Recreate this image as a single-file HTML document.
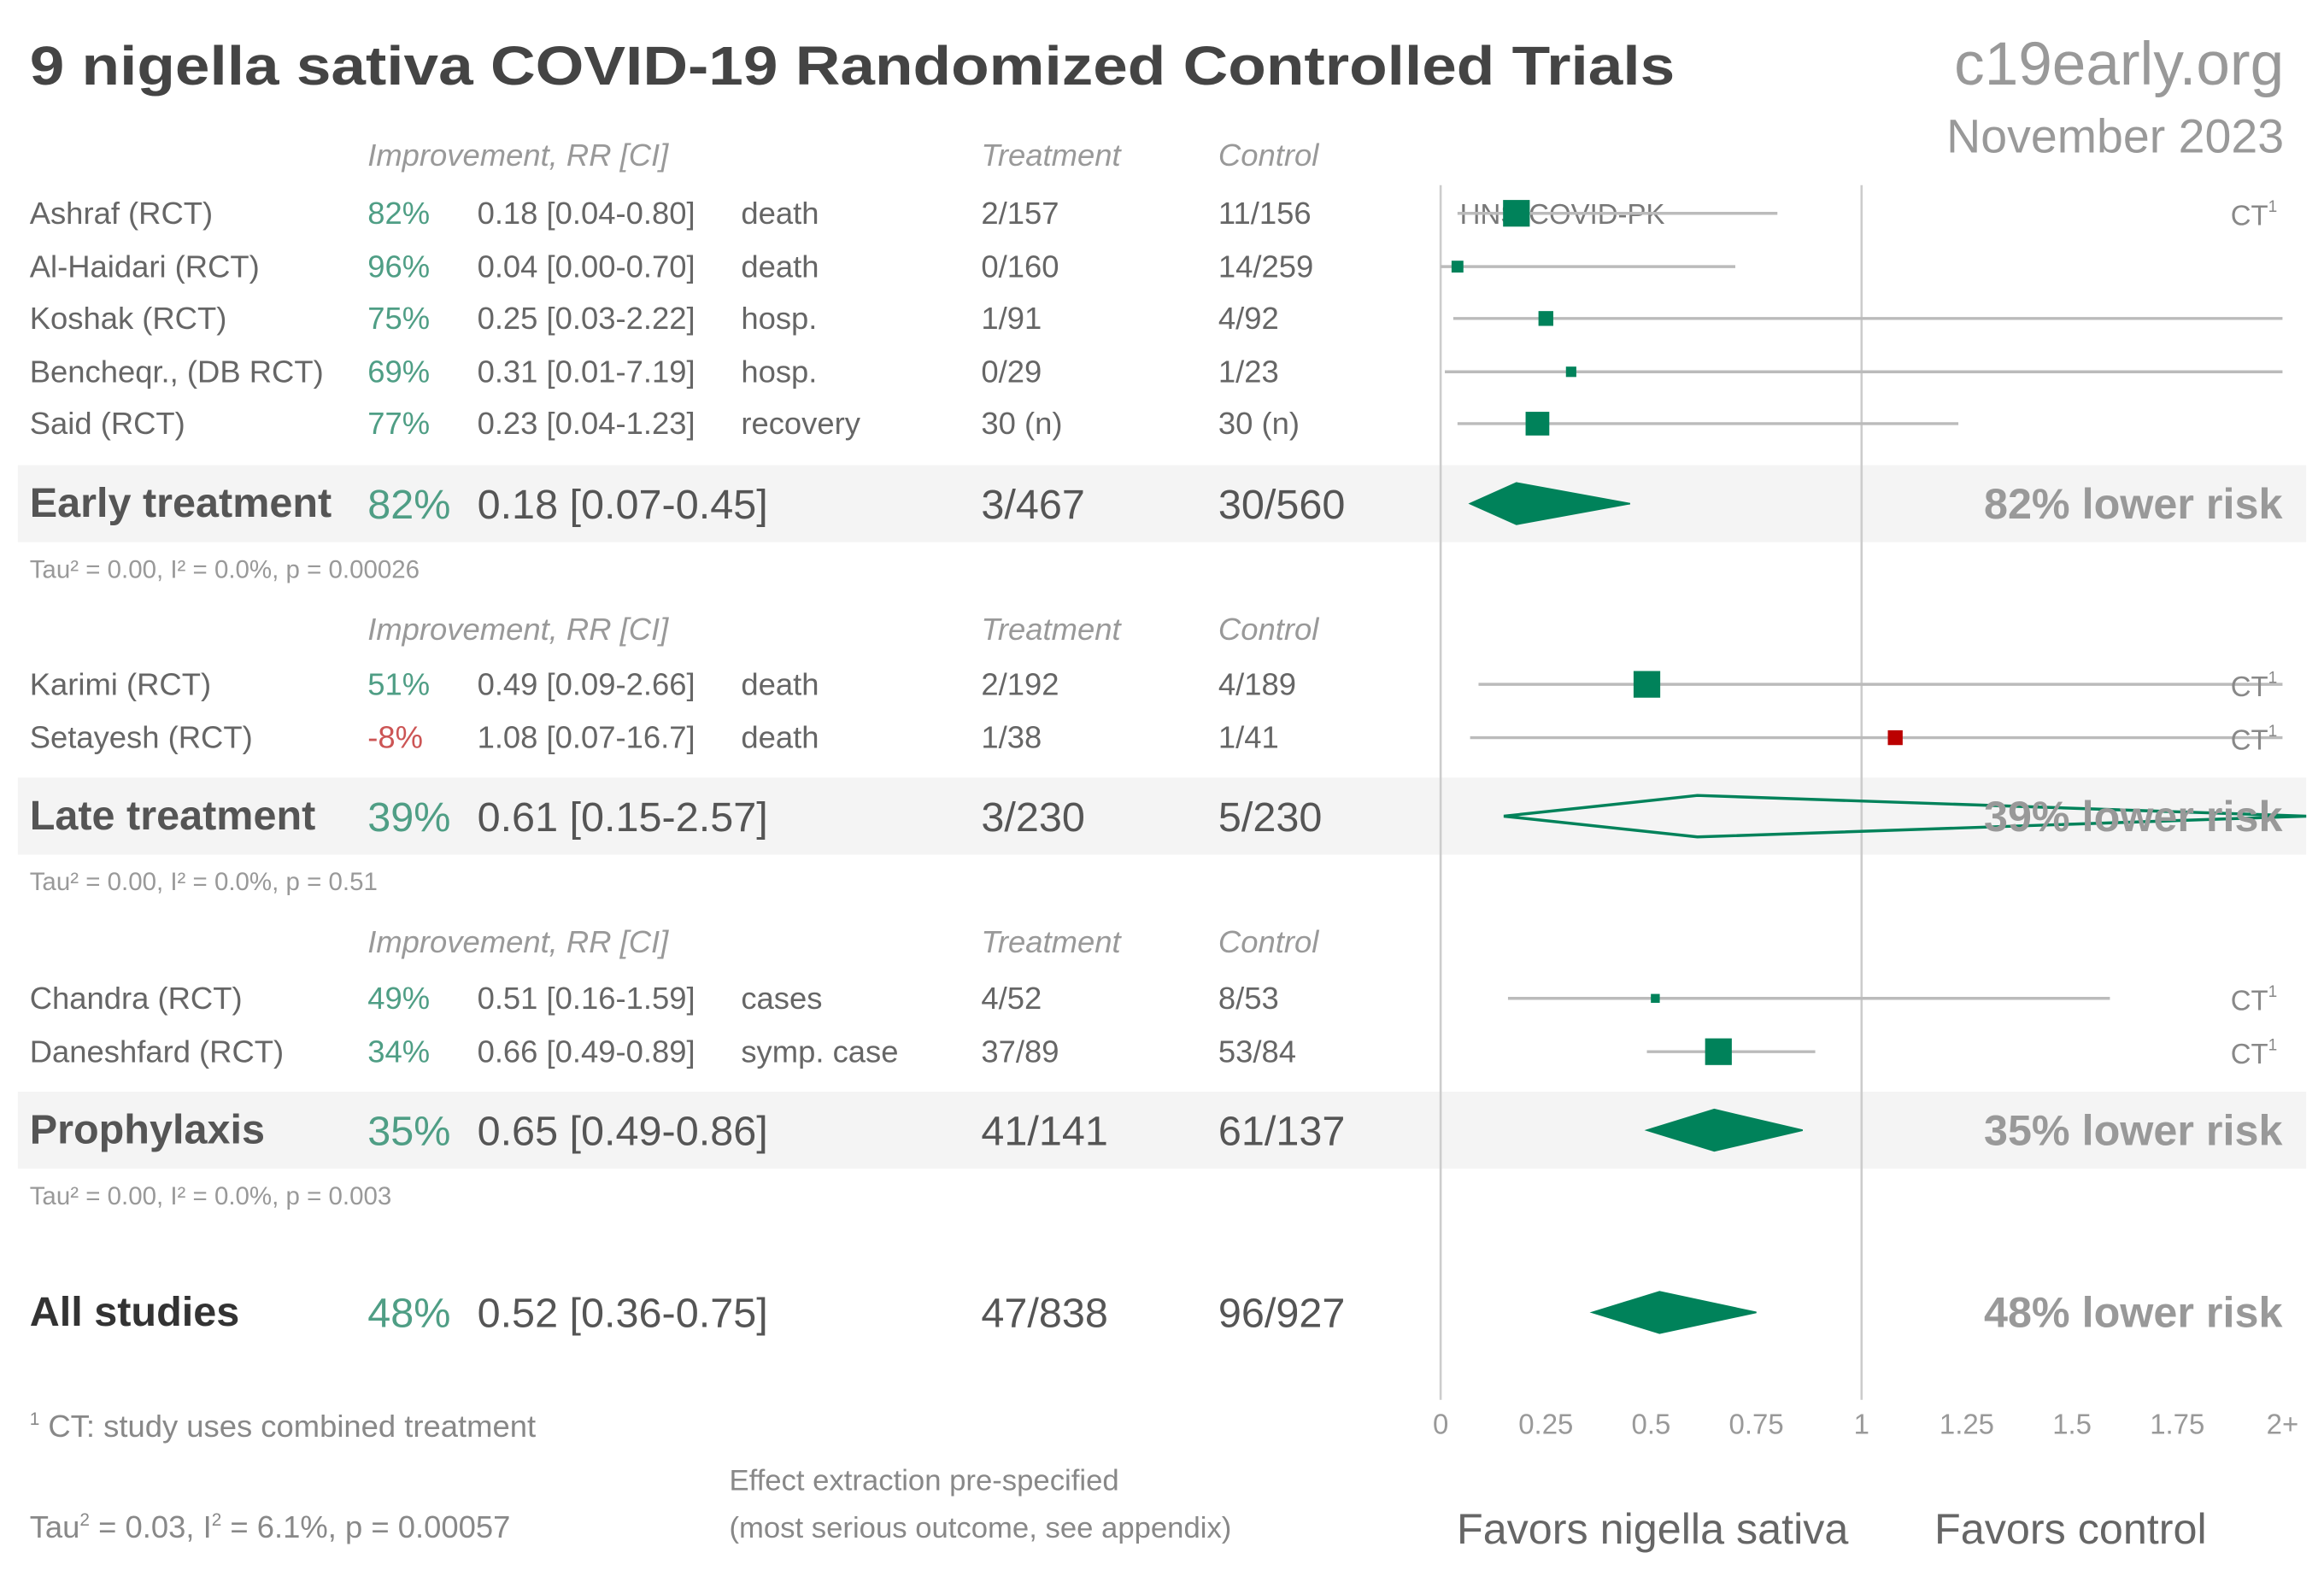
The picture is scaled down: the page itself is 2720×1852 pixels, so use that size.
<!DOCTYPE html>
<html><head><meta charset="utf-8"><style>
html,body{margin:0;padding:0;background:#fff;}
svg{display:block;}
text{font-family:"Liberation Sans",sans-serif;}
</style></head><body>
<svg id="chart" width="2720" height="1852" viewBox="0 0 1568 1068" preserveAspectRatio="none" xmlns="http://www.w3.org/2000/svg">
<g id="bg"></g>
<text x="20" y="57" font-size="37" font-weight="bold" fill="#444" textLength="1110" lengthAdjust="spacingAndGlyphs">9 nigella sativa COVID-19 Randomized Controlled Trials</text>
<text x="1541" y="57" font-size="41" fill="#999" text-anchor="end">c19early.org</text>
<text x="1541" y="103" font-size="32" fill="#999" text-anchor="end">November 2023</text>
<g id="rows"></g>
<g id="plot"></g>
<text x="20" y="970" font-size="21" fill="#888"><tspan font-size="12" dy="-8">1</tspan><tspan dy="8"> CT: study uses combined treatment</tspan></text>
<text x="20" y="1038" font-size="21" fill="#888">Tau<tspan font-size="12" dy="-8">2</tspan><tspan dy="8"> = 0.03, I</tspan><tspan font-size="12" dy="-8">2</tspan><tspan dy="8"> = 6.1%, p = 0.00057</tspan></text>
<text x="492" y="1006" font-size="20" fill="#888">Effect extraction pre-specified</text>
<text x="492" y="1038" font-size="20" fill="#888">(most serious outcome, see appendix)</text>
<text x="1115" y="1042" font-size="29" fill="#666" text-anchor="middle">Favors nigella sativa</text>
<text x="1397" y="1042" font-size="29" fill="#666" text-anchor="middle">Favors control</text>
</svg>
<script>
const studyNames=["Ashraf (RCT)","Al-Haidari (RCT)","Koshak (RCT)","Bencheqr., (DB RCT)","Said (RCT)","Karimi (RCT)","Setayesh (RCT)","Chandra (RCT)","Daneshfard (RCT)"];
const studyRR=[0.18,0.04,0.25,0.31,0.23,0.49,1.08,0.51,0.66];
const studyLo=[0.04,0.00,0.03,0.01,0.04,0.09,0.07,0.16,0.49];
const studyHi=[0.80,0.70,2.22,7.19,1.23,2.66,16.7,1.59,0.89];
const studyImp=["82%","96%","75%","69%","77%","51%","-8%","49%","34%"];
const studyRRText=["0.18 [0.04-0.80]","0.04 [0.00-0.70]","0.25 [0.03-2.22]","0.31 [0.01-7.19]","0.23 [0.04-1.23]","0.49 [0.09-2.66]","1.08 [0.07-16.7]","0.51 [0.16-1.59]","0.66 [0.49-0.89]"];
const studyOutcome=["death","death","hosp.","hosp.","recovery","death","death","cases","symp. case"];
const studyTreat=["2/157","0/160","1/91","0/29","30 (n)","2/192","1/38","4/52","37/89"];
const studyCtrl=["11/156","14/259","4/92","1/23","30 (n)","4/189","1/41","8/53","53/84"];
const studyWeight=[18,8,10,7,16,18,10,6,18];
const studyCT=[true,false,false,false,false,true,true,true,true];
const studyRowY=[144,180,215,251,286,462,498,674,710];
const sumNames=["Early treatment","Late treatment","Prophylaxis","All studies"];
const sumRR=[0.18,0.61,0.65,0.52];
const sumLo=[0.07,0.15,0.49,0.36];
const sumHi=[0.45,2.57,0.86,0.75];
const sumImp=["82%","39%","35%","48%"];
const sumRRText=["0.18 [0.07-0.45]","0.61 [0.15-2.57]","0.65 [0.49-0.86]","0.52 [0.36-0.75]"];
const sumTreat=["3/467","3/230","41/141","47/838"];
const sumCtrl=["30/560","5/230","61/137","96/927"];
const sumRisk=["82% lower risk","39% lower risk","35% lower risk","48% lower risk"];
const sumTau=["Tau² = 0.00, I² = 0.0%, p = 0.00026","Tau² = 0.00, I² = 0.0%, p = 0.51","Tau² = 0.00, I² = 0.0%, p = 0.003",""];
const sumRowY=[340,551,763,886];
const headerY=[105,425,636];
const tickLabels=["0","0.25","0.5","0.75","1","1.25","1.5","1.75","2+"];
const tickValues=[0,0.25,0.5,0.75,1,1.25,1.5,1.75,2];

const NS="http://www.w3.org/2000/svg";
const X0=972,UNIT=284;
function xs(v,max){return Math.min(X0+v*UNIT,max||1540);}
function mk(tag,attrs,parent,txt){const e=document.createElementNS(NS,tag);for(const k in attrs)e.setAttribute(k,attrs[k]);if(txt!==undefined)e.textContent=txt;parent.appendChild(e);return e;}
const bg=document.getElementById('bg'),rows=document.getElementById('rows'),plot=document.getElementById('plot');
const GREEN="#00825a",TXT="#666";

for(let i=0;i<3;i++){
  const r=mk('rect',{x:12,y:sumRowY[i]-26,width:1544,height:52,fill:"#f4f4f4"},bg);
  
  
}
headerY.forEach(y=>{
  const g=mk('g',{},rows);
  
  
  mk('text',{x:248,y:y+7,'font-size':21,'font-style':'italic',fill:'#999'},g,"Improvement, RR [CI]");
  mk('text',{x:662,y:y+7,'font-size':21,'font-style':'italic',fill:'#999'},g,"Treatment");
  mk('text',{x:822,y:y+7,'font-size':21,'font-style':'italic',fill:'#999'},g,"Control");
});
[0,1].forEach(v=>{
  const l=mk('line',{x1:xs(v),x2:xs(v),y1:125,y2:945,stroke:"#ccc",'stroke-width':1.5},plot);
  
  
});
tickLabels.forEach((t,i)=>{
  const e=mk('text',{x:xs(tickValues[i]),y:968,'font-size':19,fill:'#999','text-anchor':'middle'},plot,t);
  
  
});
studyNames.forEach((n,i)=>{
  const y=studyRowY[i];
  const g=mk('g',{},rows);
  
  
  mk('text',{x:20,y:y+7,'font-size':21,fill:TXT},g,n);
  mk('text',{x:248,y:y+7,'font-size':21,fill:studyImp[i].startsWith('-')?'#c55':'#4f9e85'},g,studyImp[i]);
  mk('text',{x:322,y:y+7,'font-size':21,fill:TXT},g,studyRRText[i]);
  mk('text',{x:500,y:y+7,'font-size':21,fill:TXT},g,studyOutcome[i]);
  mk('text',{x:662,y:y+7,'font-size':21,fill:TXT},g,studyTreat[i]);
  mk('text',{x:822,y:y+7,'font-size':21,fill:TXT},g,studyCtrl[i]);
  const pg=mk('g',{},plot);
  
  
  if(i===0) mk('text',{x:985,y:y+7,'font-size':19,fill:'#777'},pg,"HNS-COVID-PK");
  mk('line',{x1:xs(studyLo[i]),x2:xs(studyHi[i]),y1:y,y2:y,stroke:"#bbb",'stroke-width':2},pg);
  const w=studyWeight[i];
  mk('rect',{x:xs(studyRR[i])-w/2,y:y-w/2,width:w,height:w,fill:studyRR[i]>1?'#b00':GREEN},pg);
  if(studyCT[i]){
    const c=mk('text',{x:1505,y:y+8,'font-size':19,fill:'#888'},pg,"CT");
    mk('tspan',{'font-size':11,dy:-9},c,"1");
  }
});
sumNames.forEach((n,i)=>{
  const y=sumRowY[i];
  const g=mk('g',{},rows);
  
  
  mk('text',{x:20,y:y+9,'font-size':28,'font-weight':'bold',fill:i===3?'#333':'#555'},g,n);
  mk('text',{x:248,y:y+10,'font-size':28,fill:'#4f9e85'},g,sumImp[i]);
  mk('text',{x:322,y:y+10,'font-size':28,fill:'#555'},g,sumRRText[i]);
  mk('text',{x:662,y:y+10,'font-size':28,fill:'#555'},g,sumTreat[i]);
  mk('text',{x:822,y:y+10,'font-size':28,fill:'#555'},g,sumCtrl[i]);
  if(sumTau[i]) mk('text',{x:20,y:y+50,'font-size':17,fill:'#999'},g,sumTau[i]);
  const pg=mk('g',{},plot);
  
  
  const l=xs(sumLo[i],1556),m=xs(sumRR[i],1556),r=xs(sumHi[i],1556);
  const open=sumHi[i]>2;
  mk('polygon',{points:`${l},${y} ${m},${y-14} ${r},${y} ${m},${y+14}`,fill:open?'none':GREEN,stroke:GREEN,'stroke-width':open?2:1},pg);
  mk('text',{x:1540,y:y+10,'font-size':29,'font-weight':'bold',fill:'#999','text-anchor':'end'},pg,sumRisk[i]);
});
</script>
</body></html>
